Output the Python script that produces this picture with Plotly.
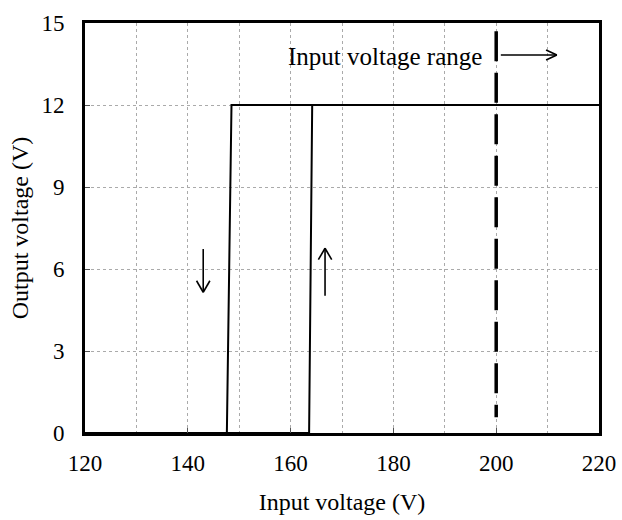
import plotly.graph_objects as go

# Data
down_x = [220, 148.5, 147.6, 120]
down_y = [12, 12, 0, 0]
up_x = [120, 163.6, 164.2, 220]
up_y = [0, 0, 12, 12]
range_x = [200, 200]
range_y = [14.7, 0.58]

x_ticks = [120, 140, 160, 180, 200, 220]
y_ticks = [0, 3, 6, 9, 12, 15]

# Arrow annotations (data coordinates)
arrow_right = dict(x0=200.9, x1=211.8, y=13.83, head_x=209.7, head_dy=0.18)
arrow_down = dict(x=143.0, y0=6.73, y1=5.15, head_y=5.57, head_dx=1.3)
arrow_up = dict(x=166.7, y0=5.02, y1=6.76, head_y=6.34, head_dx=1.3)

FONT = "Liberation Serif, Times New Roman, serif"
GRID = "#aaaaaa"

fig = go.Figure()
fig.add_trace(go.Scatter(x=down_x, y=down_y, mode="lines",
                         line=dict(color="black", width=2), showlegend=False))
fig.add_trace(go.Scatter(x=up_x, y=up_y, mode="lines",
                         line=dict(color="black", width=2), showlegend=False))
fig.add_trace(go.Scatter(x=range_x, y=range_y, mode="lines",
                         line=dict(color="black", width=3.5, dash="30px,11.5px"),
                         showlegend=False))

shapes = []
def seg(x0, y0, x1, y1):
    shapes.append(dict(type="line", xref="x", yref="y", x0=x0, y0=y0, x1=x1, y1=y1,
                       line=dict(color="black", width=1.6)))

a = arrow_right
seg(a["x0"], a["y"], a["x1"], a["y"])
seg(a["head_x"], a["y"] + a["head_dy"], a["x1"], a["y"])
seg(a["head_x"], a["y"] - a["head_dy"], a["x1"], a["y"])
a = arrow_down
seg(a["x"], a["y0"], a["x"], a["y1"])
seg(a["x"] - a["head_dx"], a["head_y"], a["x"], a["y1"])
seg(a["x"] + a["head_dx"], a["head_y"], a["x"], a["y1"])
a = arrow_up
seg(a["x"], a["y0"], a["x"], a["y1"])
seg(a["x"] - a["head_dx"], a["head_y"], a["x"], a["y1"])
seg(a["x"] + a["head_dx"], a["head_y"], a["x"], a["y1"])

fig.update_layout(
    width=622, height=520,
    margin=dict(l=85, r=23, t=23, b=87, autoexpand=False),
    plot_bgcolor="white", paper_bgcolor="white",
    font=dict(family=FONT, size=23, color="black"),
    shapes=shapes,
    annotations=[dict(x=197.6, y=13.78, xref="x", yref="y", text="Input voltage range",
                      showarrow=False, xanchor="right", yanchor="middle",
                      font=dict(family=FONT, size=25, color="black"))],
)
fig.update_xaxes(
    range=[120, 220], tickvals=x_ticks, ticktext=[str(v) for v in x_ticks],
    showgrid=True, gridcolor=GRID, griddash="dot", gridwidth=1,
    minor=dict(dtick=10, tick0=120, showgrid=True, gridcolor=GRID, griddash="dot", gridwidth=1),
    showline=True, linecolor="black", linewidth=3, mirror=True,
    ticks="inside", ticklen=5, tickcolor="#555",
    zeroline=False, ticklabelstandoff=7,
    title=dict(text="Input voltage (V)", font=dict(size=24), standoff=19),
)
fig.update_yaxes(
    range=[0, 15], tickvals=y_ticks, ticktext=[str(v) for v in y_ticks],
    showgrid=True, gridcolor=GRID, griddash="dot", gridwidth=1,
    showline=True, linecolor="black", linewidth=3, mirror=True,
    ticks="inside", ticklen=5, tickcolor="#555",
    zeroline=False, ticklabelstandoff=13,
    title=dict(text="Output voltage (V)", font=dict(size=24), standoff=7),
)

fig.write_html("out.html", config={"displayModeBar": False},
               post_script="document.body.style.margin='0';document.body.style.overflow='hidden';")
